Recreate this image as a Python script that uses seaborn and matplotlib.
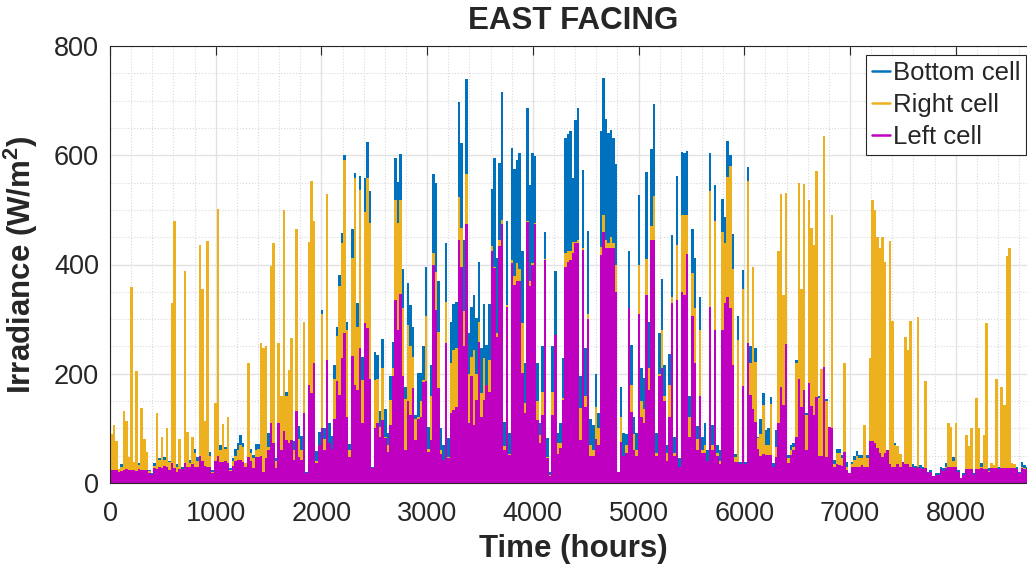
import numpy as np
import pandas as pd
import seaborn as sns
import matplotlib
matplotlib.use("Agg")
import matplotlib.pyplot as plt
from matplotlib.lines import Line2D
from matplotlib.ticker import MultipleLocator

# Daily peak irradiance (W/m^2) for each cell, day 0 .. 364
bottom_cell = [
    25,22,25,20,35,28,25,28,30,38,25,37,28,25,26,24,18,37,25,45,30,48,30,41,35,35,35,30,30,32,40,42,35,62,47,40,50,45,42,57,23,50,45,70,48,65,50,27,45,62,73,87,74,35,55,63,51,71,71,60,20,
    40,91,45,45,45,40,45,60,167,50,50,76,60,104,86,50,21,60,70,80,59,94,317,100,80,109,86,216,286,381,458,600,295,71,465,567,330,562,230,559,625,534,30,239,234,131,264,135,92,195,259,595,551,602,391,176,366,326,286,125,202,
    201,250,396,103,216,565,549,369,100,70,440,82,294,327,331,697,623,445,739,275,323,344,302,405,247,327,253,327,538,595,411,585,715,112,479,91,613,574,591,605,424,220,686,546,604,599,220,109,250,459,82,20,250,388,92,109,228,632,638,645,558,665,
    686,195,573,247,462,118,106,199,129,645,742,666,641,646,631,584,20,176,91,90,425,253,120,91,527,210,192,569,295,612,694,91,274,374,216,70,237,454,84,562,45,606,604,608,159,465,411,104,340,85,109,60,604,106,546,70,60,520,487,626,601,
    455,54,306,39,390,39,579,251,250,248,85,118,164,97,100,158,37,97,100,120,110,120,51,70,73,226,100,100,100,128,100,100,100,100,159,80,100,153,94,60,42,62,62,51,56,39,18,39,49,59,51,51,40,51,50,50,50,50,50,50,50,
    55,40,30,73,66,40,39,40,40,40,35,31,40,33,30,35,21,24,12,18,18,30,27,36,40,40,48,40,24,10,18,30,30,30,19,30,30,36,30,30,27,36,33,35,30,35,35,35,35,37,35,30,21,39,33,30,35,30,30,
]
right_cell = [
    90,106,76,25,30,132,114,48,358,38,205,33,138,80,57,22,15,32,128,42,84,42,101,38,329,480,30,80,26,388,93,36,85,55,40,435,355,114,443,50,20,147,501,60,108,63,120,24,40,50,60,70,65,36,220,55,45,60,62,256,248,
    250,65,397,440,40,256,160,499,160,207,265,60,465,80,60,294,15,442,552,480,40,70,310,80,529,70,60,190,270,360,440,592,280,60,412,558,286,537,189,497,558,476,20,189,190,103,210,85,70,152,210,518,476,518,320,153,289,250,231,118,121,
    150,189,305,63,159,421,387,277,60,42,332,48,219,243,247,524,467,314,565,199,231,243,199,295,164,228,170,225,433,396,274,445,482,67,326,54,409,379,403,392,292,146,479,369,402,476,151,88,167,410,48,15,167,271,73,74,155,421,425,425,442,442,
    445,137,430,160,310,70,60,140,100,432,490,444,440,450,440,400,15,120,50,70,320,180,90,60,400,150,135,410,210,470,525,55,200,280,160,55,180,340,55,435,30,490,490,490,120,385,320,80,280,60,70,40,534,70,480,55,40,460,440,560,580,
    392,48,262,30,356,30,552,219,396,222,82,90,143,70,70,145,30,66,425,529,344,530,45,60,65,220,549,356,548,125,518,466,436,572,155,208,636,150,96,490,35,55,55,45,219,30,15,35,42,50,45,45,106,45,228,518,499,451,431,451,404,
    50,443,296,70,68,54,35,268,244,296,30,25,303,28,25,187,18,20,10,15,15,25,22,30,109,103,40,109,20,8,15,88,68,100,15,155,100,30,88,292,22,36,33,190,25,175,143,415,430,37,35,25,18,30,28,25,30,25,25,
]
left_cell = [
    24,24,24,20,22,24,25,24,24,24,22,26,24,24,23,18,14,28,26,30,28,32,30,24,36,28,20,25,25,37,30,30,34,30,30,50,40,32,30,30,18,40,50,38,38,40,36,22,32,40,42,42,38,30,48,40,28,48,48,50,20,
    45,60,109,73,28,110,60,96,79,73,79,43,131,48,43,128,18,180,164,220,37,70,100,60,225,73,63,118,186,161,228,275,121,48,233,180,170,247,109,292,283,190,27,100,109,85,115,82,57,106,196,335,280,346,195,60,151,125,173,79,118,
    121,185,186,57,79,399,317,173,54,42,257,45,128,134,140,445,396,250,474,109,195,106,152,259,121,152,180,167,424,393,268,434,474,60,322,51,402,363,369,369,201,128,477,360,399,474,115,73,125,408,45,12,125,271,54,64,152,395,405,408,421,440,
    440,79,427,140,300,50,50,80,70,417,460,430,430,430,430,350,20,75,50,55,320,130,60,50,310,120,110,345,170,445,445,50,195,210,150,40,120,330,50,335,30,350,345,420,85,305,220,60,160,55,55,40,323,60,280,50,35,280,330,340,320,
    216,39,39,35,178,35,257,161,135,112,63,50,54,51,51,51,30,48,109,176,143,255,36,51,60,85,190,140,170,60,183,141,125,157,49,49,213,48,103,100,30,35,33,31,57,24,18,30,30,30,30,33,30,30,76,76,73,64,55,48,55,
    60,35,30,30,35,30,39,35,35,30,30,27,30,27,25,28,18,20,12,15,15,25,22,28,30,30,30,30,20,10,15,25,25,25,15,25,25,28,25,25,20,28,28,28,25,28,28,28,28,28,28,25,18,28,25,25,25,25,25,
]
series_names = ["Bottom cell", "Right cell", "Left cell"]
series_colors = ["#0072BD", "#EDB120", "#C000C0"]

x_ticks = [0, 1000, 2000, 3000, 4000, 5000, 6000, 7000, 8000]
y_ticks = [0, 200, 400, 600, 800]

hours_per_day = 24
n_days = len(bottom_cell)
day_mid = np.arange(n_days) * hours_per_day + hours_per_day / 2
year_hours = n_days * hours_per_day

df = pd.DataFrame({
    "hour": np.tile(day_mid, 3),
    "irradiance": np.concatenate([bottom_cell, right_cell, left_cell]).astype(float),
    "cell": np.repeat(series_names, n_days),
})

sns.set_style("white")
plt.rcParams["font.family"] = ["Liberation Sans", "DejaVu Sans"]
plt.rcParams["mathtext.fontset"] = "custom"
plt.rcParams["mathtext.rm"] = "Liberation Sans"
plt.rcParams["mathtext.bf"] = "Liberation Sans:bold"

fig = plt.figure(figsize=(10.27, 5.68), dpi=100)
ax = fig.add_axes([110 / 1027, 85 / 568, 926 / 1027, 437 / 568])

# each cell's daily peaks drawn as day-wide columns, later cells on top
for name, color in zip(series_names, series_colors):
    sub = df[df["cell"] == name]
    sns.histplot(data=sub, x="hour", weights="irradiance",
                 binwidth=hours_per_day, binrange=(0, year_hours),
                 color=color, alpha=1, linewidth=0, element="bars", ax=ax)

ax.set_xlim(0, year_hours)
ax.set_ylim(0, 800)
ax.set_xticks(x_ticks)
ax.set_yticks(y_ticks)
ax.xaxis.set_minor_locator(MultipleLocator(200))
ax.yaxis.set_minor_locator(MultipleLocator(50))
ax.set_axisbelow(True)
ax.grid(which="major", color="#e2e2e2", linewidth=1.0)
ax.grid(which="minor", color="#d9d9d9", linestyle=":", linewidth=0.8)
ax.tick_params(which="major", direction="in", length=6.5, width=0.8,
               colors="#262626", labelsize=19.5, top=True, right=True,
               labelcolor="#262626")
ax.tick_params(axis="x", pad=13)
ax.tick_params(axis="y", pad=8)
ax.tick_params(which="minor", length=0)
for sp in ax.spines.values():
    sp.set_color("#262626")
    sp.set_linewidth(0.8)

ax.set_xlabel("Time (hours)", fontsize=22.5, fontweight="bold", labelpad=5)
ax.set_ylabel(r"Irradiance (W/m$^{\mathbf{2}}$)", fontsize=22.5,
              fontweight="bold", labelpad=10)
ax.set_title("EAST FACING", fontsize=22.5, fontweight="bold", pad=12)

handles = [Line2D([0], [0], color=c, lw=1.8) for c in series_colors]
leg = ax.legend(handles, series_names, loc="upper right",
                bbox_to_anchor=(0.989, 0.979), borderaxespad=0,
                fontsize=18.5, frameon=True, fancybox=False, framealpha=1,
                handlelength=0.7, handletextpad=0.12, labelspacing=0.32,
                borderpad=0.22)
leg.get_frame().set_edgecolor("#262626")
leg.get_frame().set_linewidth(0.8)

fig.savefig("out.png", dpi=100)
